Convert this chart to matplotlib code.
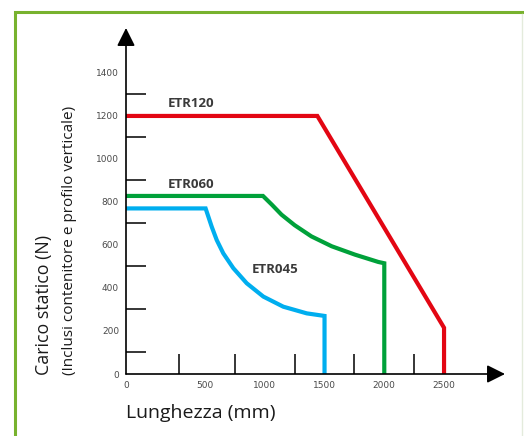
import numpy as np
import matplotlib
matplotlib.use("Agg")
import matplotlib.pyplot as plt
from matplotlib.patches import Rectangle

# curves (length in mm, load in N)
etr120_x = [0, 1440, 2500, 2500]
etr120_y = [1200, 1200, 215, 0]
etr060_x = [0, 985, 1060, 1140, 1250, 1390, 1560, 1755, 1950, 2000, 2000]
etr060_y = [828, 828, 787, 741, 692, 640, 594, 555, 521, 515, 0]
etr045_x = [0, 505, 556, 598, 653, 737, 849, 988, 1155, 1351, 1500, 1500]
etr045_y = [770, 770, 685, 623, 561, 492, 422, 360, 313, 282, 270, 0]

x_ticks = [0, 500, 1000, 1500, 2000, 2500]
x_marks = [250, 750, 1250, 1750, 2250]
y_ticks = [0, 200, 400, 600, 800, 1000, 1200, 1400]
y_marks = [100, 300, 500, 700, 900, 1100, 1300]

RED = "#e30613"
GREEN = "#00a13a"
BLUE = "#00aeef"
BORDER = "#78b22e"

# the drawing is schematic: first 500 mm are stretched
X_MM = [0, 250, 500, 4000]
X_PX = [0, 53, 79, 79 + 3500 * 0.1195]


def fwd(v):
    return np.interp(v, X_MM, X_PX)


def inv(p):
    return np.interp(p, X_PX, X_MM)


fig = plt.figure(figsize=(5.24, 4.36), dpi=100)
fig.patches.append(Rectangle((15 / 524, -0.1), 1.2, (436 - 12) / 436 + 0.1, transform=fig.transFigure,
                             fill=False, edgecolor=BORDER, lw=2.2))
fig.add_artist(plt.Line2D([522 / 524, 522 / 524], [0, (436 - 14) / 436], transform=fig.transFigure,
                          color="#e4ebdc", lw=1))

ax = fig.add_axes([126 / 524, 62 / 436, 379 / 524, 346 / 436])
ax.set_xscale('function', functions=(fwd, inv))
ax.set_xlim(0, 3010)
ax.set_ylim(0, 1609)
for s in ax.spines.values():
    s.set_visible(False)
ax.patch.set_alpha(0)

ax.plot(etr120_x, etr120_y, color=RED, lw=3, solid_joinstyle='miter', solid_capstyle='butt')
ax.plot(etr060_x, etr060_y, color=GREEN, lw=3, solid_joinstyle='miter', solid_capstyle='butt')
ax.plot(etr045_x, etr045_y, color=BLUE, lw=3, solid_joinstyle='miter', solid_capstyle='butt')

lab = dict(fontfamily="Open Sans", fontweight="bold", fontsize=9.5, color="#3a3a3a", va="center", ha="left")
ax.text(198, 1260, "ETR120", **lab)
ax.text(198, 879, "ETR060", **lab)
ax.text(893, 484, "ETR045", **lab)

# axes with arrow heads
arr = dict(arrowstyle='-|>,head_length=1.1,head_width=0.55', color='black', lw=1.2,
           mutation_scale=10, shrinkA=0, shrinkB=0)
ax.annotate('', xy=(1, 0), xytext=(0, 0), xycoords='axes fraction', arrowprops=arr)
ax.annotate('', xy=(0, 1), xytext=(0, 0), xycoords='axes fraction', arrowprops=arr)

ax.set_xticks(x_ticks)
ax.set_xticklabels([str(v) for v in x_ticks])
ax.set_xticks(x_marks, minor=True)
ax.set_yticks(y_ticks)
ax.set_yticklabels([str(v) for v in y_ticks])
ax.set_yticks(y_marks, minor=True)
ax.tick_params(which='major', length=0, labelsize=6.5, labelcolor="#4a4a4a")
ax.tick_params(axis='x', which='major', pad=5)
ax.tick_params(axis='y', which='major', pad=5)
ax.tick_params(which='minor', length=14.5, width=1.1, direction='in', color='black')
for t in ax.get_xticklabels() + ax.get_yticklabels():
    t.set_fontfamily("DejaVu Sans")

fig.text(126 / 524, (436 - 413) / 436, "Lunghezza (mm)", fontfamily="Open Sans", fontsize=14,
         ha="left", va="center", color="#1a1a1a")
fig.text(44 / 524, 61 / 436, "Carico statico (N)", fontfamily="Open Sans", fontsize=12.8,
         rotation=90, ha="center", va="bottom", color="#1a1a1a")
fig.text(70 / 524, 61 / 436, "(Inclusi contenitore e profilo verticale)", fontfamily="Open Sans",
         fontsize=11, rotation=90, ha="center", va="bottom", color="#1a1a1a")

fig.savefig("out.png", dpi=100)
